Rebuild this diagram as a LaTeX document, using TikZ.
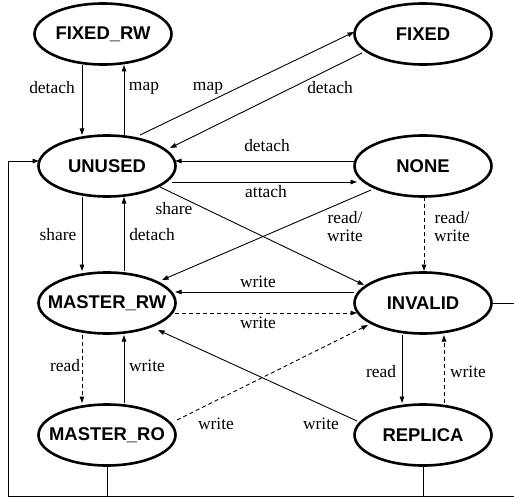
\documentclass[tikz,border=0pt]{standalone}
\usepackage{fontspec}
\setmainfont{Liberation Serif}
\setsansfont{Liberation Sans}
\usetikzlibrary{arrows.meta,calc,shapes.geometric}
\begin{document}
\begin{tikzpicture}[x=1bp,y=-1bp,
  state/.style={ellipse, draw, line width=2.6bp, minimum width=137bp,
    minimum height=61bp, inner sep=0pt,
    font=\sffamily\bfseries\fontsize{18.5}{20}\selectfont},
  tr/.style={-{Triangle[length=6.5bp,width=4.5bp]}, line width=0.9bp},
  plain/.style={line width=0.9bp},
  dsh/.style={dash pattern=on 4bp off 3bp},
  lbl/.style={font=\fontsize{17.5}{18}\selectfont, inner sep=0pt, align=center}]
\useasboundingbox (0,0) rectangle (514,497);

% states
\node[state] (fixedrw)  at (103,34)  {\makebox[0pt]{FIXED\_RW}};
\node[state] (fixed)    at (423,34)  {\makebox[0pt]{FIXED}};
\node[state] (unused)   at (107,166) {\makebox[0pt]{UNUSED}};
\node[state] (none)     at (423,166) {\makebox[0pt]{NONE}};
\node[state] (masterrw) at (107,303) {\makebox[0pt]{MASTER\_RW}};
\node[state] (invalid)  at (423,303) {\makebox[0pt]{INVALID}};
\node[state] (masterro) at (107,435) {\makebox[0pt]{MASTER\_RO}};
\node[state] (replica)  at (423,435) {\makebox[0pt]{REPLICA}};

% transitions
\draw[tr] ($(fixedrw)+(-21,31)$) -- ($(unused)+(-25,-31)$);
\draw[tr] ($(unused)+(17,-31)$) -- ($(fixedrw)+(21,31)$);
\draw[tr] ($(unused)+(33,-31)$) -- ($(fixed)+(-69,-2)$);
\draw[tr] ($(fixed)+(-61,19)$) -- ($(unused)+(63,-18)$);
\draw[tr] ($(none)+(-69,-5)$) -- ($(unused)+(68,-5)$);
\draw[tr] ($(unused)+(65,16)$) -- ($(none)+(-66,16)$);
\draw[tr] ($(unused)+(53,21)$) -- ($(invalid)+(-59,-18)$);
\draw[tr] ($(none)+(-52,24)$) -- ($(masterrw)+(55,-23)$);
\draw[tr,dsh] ($(none)+(1,31)$) -- ($(invalid)+(1,-32)$);
\draw[tr] ($(unused)+(-25,31)$) -- ($(masterrw)+(-25,-32)$);
\draw[tr] ($(masterrw)+(17,-32)$) -- ($(unused)+(17,31)$);
\draw[tr] ($(invalid)+(-69,-11)$) -- ($(masterrw)+(68,-11)$);
\draw[tr,dsh] ($(masterrw)+(68,10)$) -- ($(invalid)+(-66,10)$);
\draw[tr,dsh] ($(masterrw)+(-25,32)$) -- ($(masterro)+(-25,-32)$);
\draw[tr] ($(masterro)+(17,-32)$) -- ($(masterrw)+(17,32)$);
\draw[tr,dsh] ($(masterro)+(70,-15)$) -- ($(invalid)+(-55,22)$);
\draw[tr] ($(replica)+(-66,-14)$) -- ($(masterrw)+(51,27)$);
\draw[tr] ($(invalid)+(-21,32)$) -- ($(replica)+(-21,-32)$);
\draw[tr,dsh] ($(replica)+(21,-32)$) -- ($(invalid)+(21,32)$);

% return loop along the frame
\coordinate (se) at (515,496);
\coordinate (sw) at (8,496);
\coordinate (nw) at (8,161);
\draw[tr] (invalid.east) -- (invalid.east -| se) -- (se) -- (sw) -- (nw)
  -- ($(unused)+(-68,-5)$);
\draw[plain] (masterro.south) -- (masterro.south |- sw);
\draw[plain] (replica.south) -- (replica.south |- sw);

% transition labels
\node[lbl] (t1)  at (52,88)   {detach};
\node[lbl] (t2)  at (144,88)  {map};
\node[lbl] (t3)  at (208,88)  {map};
\node[lbl] (t4)  at (330,88)  {detach};
\node[lbl] (t5)  at (267,146) {detach};
\node[lbl] (t6)  at (266,192) {attach};
\node[lbl] (t7)  at (174,209) {share};
\node[lbl] (t8)  at (345,227) {read/\\write};
\node[lbl] (t9)  at (452,227) {read/\\write};
\node[lbl] (t10) at (58,235)  {share};
\node[lbl] (t11) at (152,235) {detach};
\node[lbl] (t12) at (258,282) {write};
\node[lbl] (t13) at (258,323) {write};
\node[lbl] (t14) at (65,366)  {read};
\node[lbl] (t15) at (147,366) {write};
\node[lbl] (t16) at (216,424) {write};
\node[lbl] (t17) at (321,424) {write};
\node[lbl] (t18) at (381,372) {read};
\node[lbl] (t19) at (468,372) {write};
\end{tikzpicture}
\end{document}
